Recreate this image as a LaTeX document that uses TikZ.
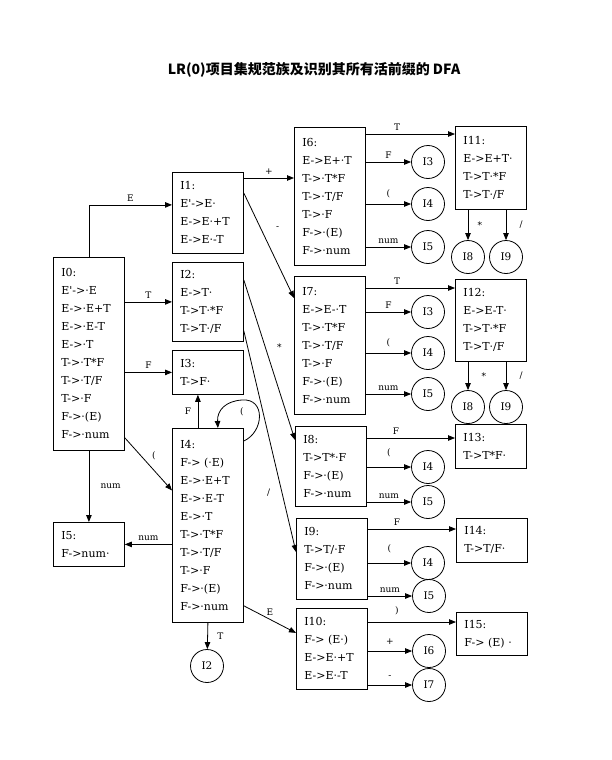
\documentclass[tikz,border=0pt]{standalone}
\usepackage{fontspec}
\setmainfont{DejaVu Serif}
\newfontfamily\cjk{Noto Sans CJK SC}
\usetikzlibrary{positioning, arrows.meta, calc}
\tikzset{
  itemset/.style={draw, rectangle, anchor=north west, align=left, text width=55pt,
    inner xsep=8pt, inner ysep=3pt, minimum width=71pt, font=\fontsize{11}{18}\selectfont},
  setref/.style={draw, circle, minimum size=33pt, inner sep=0pt, font=\fontsize{10.5}{12}\selectfont},
  lbl/.style={font=\fontsize{9}{11}\selectfont}
}

\begin{document}
\begin{tikzpicture}[x=1pt, y=-1pt, thick, >={Triangle[length=7pt, width=5.5pt]}]
    \useasboundingbox (0,0) rectangle (612,760);
    % Title
    \node (title) at (314,70) {\cjk\fontsize{14}{16}\selectfont\bfseries LR(0)项目集规范族及识别其所有活前缀的 DFA};

    % Item sets, left column
    \node[itemset, minimum height=193pt] (I0) at (53,257) {I0:\\E\textquotesingle->·E\\E->·E+T\\E->·E-T\\E->·T\\T->·T*F\\T->·T/F\\T->·F\\F->·(E)\\F->·num};
    \node[itemset, minimum height=44pt] (I5) at (53,522) {I5:\\F->num·};

    % Item sets, second column
    \node[itemset, minimum height=81pt] (I1) at (172,172) {I1:\\E\textquotesingle->E·\\E->E·+T\\E->E·-T};
    \node[itemset, minimum height=79pt] (I2) at (172,262) {I2:\\E->T·\\T->T·*F\\T->T·/F};
    \node[itemset, minimum height=44pt] (I3) at (172,350) {I3:\\T->F·};
    \node[itemset, minimum height=194pt] (I4) at (172,428) {I4:\\F-> (·E)\\E->·E+T\\E->·E-T\\E->·T\\T->·T*F\\T->·T/F\\T->·F\\F->·(E)\\F->·num};
    \node[setref] (c4) at (207,666) {I2};

    % Item sets, third column
    \node[itemset, minimum height=138pt] (I6) at (294,127) {I6:\\E->E+·T\\T->·T*F\\T->·T/F\\T->·F\\F->·(E)\\F->·num};
    \node[itemset, minimum height=138pt] (I7) at (294,276) {I7:\\E->E-·T\\T->·T*F\\T->·T/F\\T->·F\\F->·(E)\\F->·num};
    \node[itemset, minimum height=80pt] (I8) at (295,426) {I8:\\T->T*·F\\F->·(E)\\F->·num};
    \node[itemset, minimum height=81pt] (I9) at (296,518) {I9:\\T->T/·F\\F->·(E)\\F->·num};
    \node[itemset, minimum height=81pt] (I10) at (296,608) {I10:\\F-> (E·)\\E->E·+T\\E->E·-T};

    % Item sets, right column
    \node[itemset, minimum height=83pt] (I11) at (455,126) {I11:\\E->E+T·\\T->T·*F\\T->T·/F};
    \node[itemset, minimum height=82pt] (I12) at (455,279) {I12:\\E->E-T·\\T->T·*F\\T->T·/F};
    \node[itemset, minimum height=44pt] (I13) at (455,424) {I13:\\T->T*F·};
    \node[itemset, minimum height=44pt] (I14) at (456,518) {I14:\\T->T/F·};
    \node[itemset, minimum height=43pt] (I15) at (456,612) {I15:\\F-> (E) ·};

    % Reference circles
    \node[setref] (c6a) at (428,162) {I3};
    \node[setref] (c6b) at (428,204) {I4};
    \node[setref] (c6c) at (428,247) {I5};
    \node[setref] (c11a) at (468,257) {I8};
    \node[setref] (c11b) at (506,257) {I9};
    \node[setref] (c7a) at (428,312) {I3};
    \node[setref] (c7b) at (428,353) {I4};
    \node[setref] (c7c) at (428,394) {I5};
    \node[setref] (c12a) at (468,407) {I8};
    \node[setref] (c12b) at (506,407) {I9};
    \node[setref] (c8b) at (428,467) {I4};
    \node[setref] (c8c) at (428,502) {I5};
    \node[setref] (c9b) at (428,563) {I4};
    \node[setref] (c9c) at (429,596) {I5};
    \node[setref] (c10a) at (429,651) {I6};
    \node[setref] (c10b) at (429,685) {I7};

    % Transitions out of I0
    \draw[->] (I0.north) |- ([yshift=8]I1.west) node[lbl, pos=0.75, above] {E};
    \draw[->] (I0.east |- I2.west) -- (I2.west) node[lbl, midway, above] {T};
    \draw[->] (I0.east |- I3.west) -- (I3.west) node[lbl, midway, above] {F};
    \draw[->] (I0.south) -- (I5.north) node[lbl, midway, right, xshift=8] {num};
    \draw[->] ([yshift=13]I0.south east) -- ([yshift=35]I4.west) node[lbl, midway, above right] {(};

    % Transitions out of I4
    \draw[->] (I4.west |- I5.east) -- (I5.east) node[lbl, midway, above] {num};
    \draw[->] ([xshift=-10]I4.north) -- ([xshift=-10]I3.south) node[lbl, midway, left, xshift=-3] {F};
    \draw[->] ([yshift=-13]I4.north east) .. controls (264,432) and (266,398) .. (242,400)
        node[lbl, below=4pt] {(} .. controls (226,401) and (217,410) .. ([xshift=10]I4.north);
    \draw[->] (I4.south) -- (c4) node[lbl, midway, right, xshift=6] {T};
    \draw[->] ([yshift=17]I4.south east) -- ([yshift=16]I10.west) node[lbl, midway, above] {E};

    % Transitions out of I1 and I2
    \draw[->] ([yshift=-6]I1.north east) -- ([yshift=-51]I6.north west) node[lbl, midway, above] {+};
    \draw[->] ([yshift=-21]I1.north east) -- ([yshift=-22]I7.north west) node[lbl, pos=0.33, right, xshift=12] {-};
    \draw[->] ([yshift=-18]I2.north east) -- ([yshift=-14]I8.north west) node[lbl, pos=0.42, right, xshift=8] {*};
    \draw[->] ([yshift=11]I2.south east) -- ([yshift=-34]I9.north west) node[lbl, pos=0.73, left, xshift=-8] {/};

    % Transitions out of I6 and I11
    \draw[->] ([yshift=-7]I6.north east) -- ([yshift=-8]I11.north west) node[lbl, pos=0.35, above] {T};
    \draw[->] (I6.east |- c6a) -- (c6a) node[lbl, midway, above] {F};
    \draw[->] (I6.east |- c6b) -- (c6b) node[lbl, midway, above, yshift=2] {(};
    \draw[->] (I6.east |- c6c) -- (c6c) node[lbl, midway, above] {num};
    \draw[->] (c11a |- I11.south) -- (c11a) node[lbl, midway, right, xshift=6] {*};
    \draw[->] (c11b |- I11.south) -- (c11b) node[lbl, midway, right, xshift=10] {/};

    % Transitions out of I7 and I12
    \draw[->] ([yshift=-12]I7.north east) -- ([yshift=-9]I12.north west) node[lbl, pos=0.35, above] {T};
    \draw[->] (I7.east |- c7a) -- (c7a) node[lbl, midway, above] {F};
    \draw[->] (I7.east |- c7b) -- (c7b) node[lbl, midway, above, yshift=2] {(};
    \draw[->] (I7.east |- c7c) -- (c7c) node[lbl, midway, above] {num};
    \draw[->] (c12a |- I12.south) -- (c12a) node[lbl, midway, right, xshift=10] {*};
    \draw[->] (c12b |- I12.south) -- (c12b) node[lbl, midway, right, xshift=10] {/};

    % Transitions out of I8, I9, I10
    \draw[->] ([yshift=-12]I8.north east) -- ([yshift=-14]I13.north west) node[lbl, pos=0.33, above] {F};
    \draw[->] (I8.east |- c8b) -- (c8b) node[lbl, midway, above, yshift=6] {(};
    \draw[->] (I8.east |- c8c) -- (c8c) node[lbl, midway, above] {num};
    \draw[->] ([yshift=-11]I9.north east) -- ([yshift=-11]I14.north west) node[lbl, pos=0.33, above] {F};
    \draw[->] (I9.east |- c9b) -- (c9b) node[lbl, midway, above, yshift=6] {(};
    \draw[->] (I9.east |- c9c) -- (c9c) node[lbl, midway, above] {num};
    \draw[->] ([yshift=-14]I10.north east) -- ([yshift=-10]I15.north west) node[lbl, pos=0.33, above, yshift=3] {)};
    \draw[->] (I10.east |- c10a) -- (c10a) node[lbl, midway, above, yshift=3] {+};
    \draw[->] (I10.east |- c10b) -- (c10b) node[lbl, midway, above, yshift=3] {-};
\end{tikzpicture}
\end{document}
